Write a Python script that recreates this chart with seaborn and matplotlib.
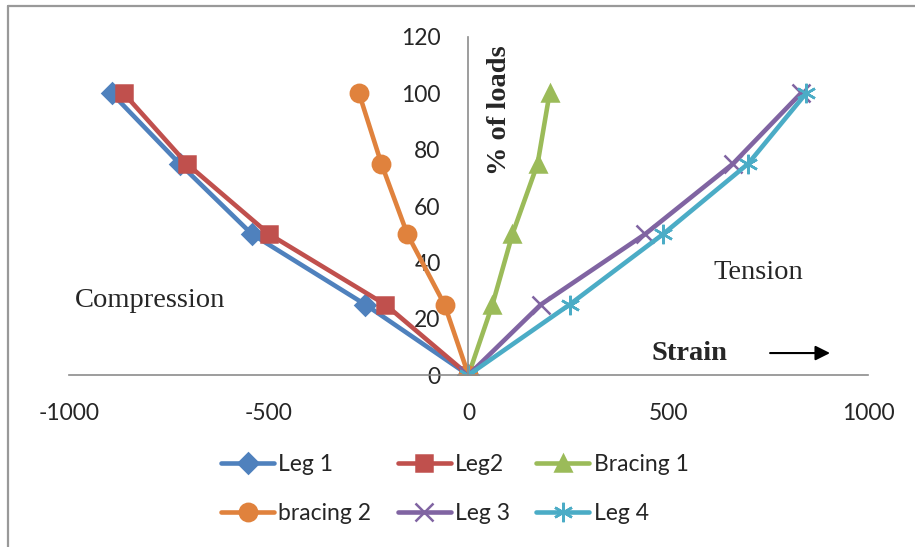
import numpy as np
import pandas as pd
import matplotlib
matplotlib.use("Agg")
import matplotlib.pyplot as plt
from matplotlib.lines import Line2D
import seaborn as sns

# Load levels (% of loads)
loads = [0, 25, 50, 75, 100]

# Strain readings per member
leg1 = [0, -258, -542, -723, -893]
leg2 = [0, -208, -499, -705, -863]
bracing1 = [0, 60, 110, 173, 203]
bracing2 = [0, -60, -153, -218, -274]
leg3 = [0, 181, 442, 662, 832]
leg4 = [0, 253, 487, 700, 845]

series_names = ["Leg 1", "Leg2", "Bracing 1", "bracing 2", "Leg 3", "Leg 4"]
series_values = [leg1, leg2, bracing1, bracing2, leg3, leg4]

colors = ["#4F81BD", "#C0504D", "#9BBB59", "#E0823D", "#8064A2", "#4BACC6"]
markers = ["D", "s", "^", "o", "x", (6, 2, 0)]
msizes = [10, 12, 12, 12.5, 13, 14]

sns.set_style("white")
plt.rcParams['font.family'] = ['Lato', 'DejaVu Sans']
plt.rcParams['axes.unicode_minus'] = False

fig = plt.figure(figsize=(9.15, 5.47), dpi=100)
ax = fig.add_axes([0.0754, 0.3144, 0.8732, 0.618])

for name, vals, c, m, ms in zip(series_names, series_values, colors, markers, msizes):
    df = pd.DataFrame({"strain": vals, "load": loads})
    sns.lineplot(data=df, x="strain", y="load", ax=ax, sort=False, estimator=None,
                 color=c, marker=m, markersize=ms, linewidth=3.3,
                 markeredgecolor=c, markeredgewidth=1.8, label=name)

ax.set_xlim(-1000, 1000)
ax.set_ylim(0, 120)
ax.set_xticks([-1000, -500, 0, 500, 1000])
ax.set_yticks([0, 20, 40, 60, 80, 100, 120])
ax.set_xlabel("")
ax.set_ylabel("")

# Excel style axes crossing at zero
ax.spines['left'].set_position(('data', 0))
ax.spines['bottom'].set_position(('data', 0))
ax.spines['top'].set_visible(False)
ax.spines['right'].set_visible(False)
for s in ['left', 'bottom']:
    ax.spines[s].set_color('#8c8c8c')
    ax.spines[s].set_linewidth(1.2)
ax.tick_params(axis='x', length=0, pad=20, labelsize=16.5)
ax.tick_params(axis='y', length=0, pad=20, labelsize=16.5)

# annotations
ax.text(-985, 26.5, "Compression", family="Liberation Serif", fontsize=20.5, va="center")
ax.text(612, 36.5, "Tension", family="Liberation Serif", fontsize=20.5, va="center")
ax.text(458, 7.8, "Strain", family="Liberation Serif", fontsize=20.5,
        fontweight="bold", va="center")
ax.annotate("", xy=(912, 7.8), xytext=(748, 7.8),
            arrowprops=dict(arrowstyle="-|>", color="black", lw=1.5,
                            mutation_scale=22))
ax.text(78, 94, "% of loads", family="Liberation Serif", fontsize=20.5,
        fontweight="bold", rotation=90, ha="center", va="center")

# legend filled row by row like the original
h, l = ax.get_legend_handles_labels()
order = [0, 3, 1, 4, 2, 5]
ax.legend([h[i] for i in order], [l[i] for i in order],
          loc="upper center", bbox_to_anchor=(0.483, -0.172), ncol=3,
          frameon=False, fontsize=16.5, handlelength=2.3, columnspacing=1.15,
          handletextpad=0.2, labelspacing=1.25)

# chart border (only top and left visible)
fig.add_artist(Line2D([0.0087, 0.0087], [0, 0.989], color='#999999', lw=1.6))
fig.add_artist(Line2D([0.0087, 1.0], [0.989, 0.989], color='#999999', lw=1.6))

plt.savefig("out.png", dpi=100)
plt.close()
